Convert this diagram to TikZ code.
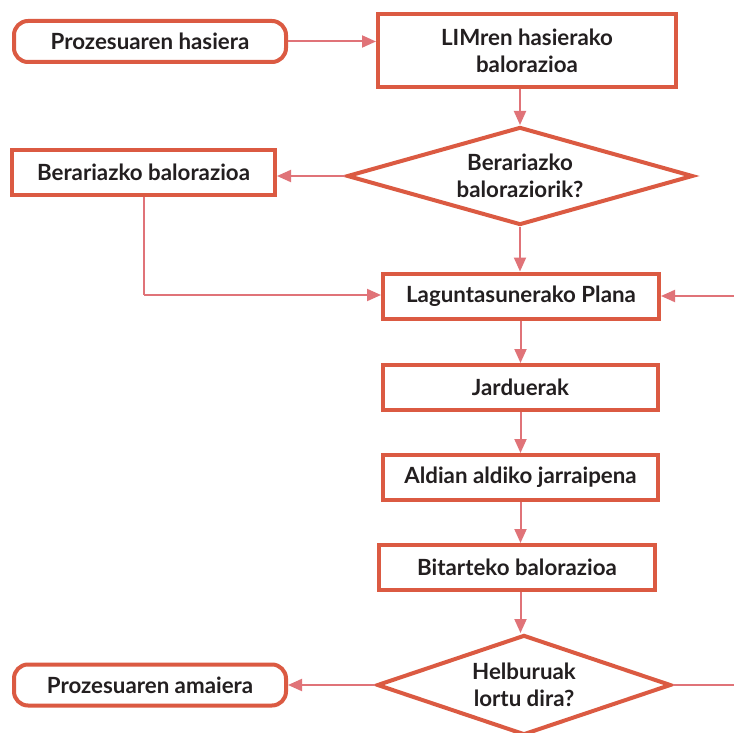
\documentclass[tikz,border=0pt]{standalone}
\usepackage{fontspec}
\setmainfont{Lato}
\usetikzlibrary{shapes.geometric,arrows.meta}
\definecolor{bord}{HTML}{DB5A42}
\definecolor{arr}{HTML}{E07378}
\definecolor{txt}{HTML}{231F20}
\begin{document}
\begin{tikzpicture}[x=1pt,y=-1pt,
  base/.style={draw=bord,line width=4pt,fill=white,inner sep=0pt,text=txt,
    font=\fontsize{22.3}{27}\selectfont\bfseries,align=center},
  box/.style={base,rectangle,minimum width=276pt,minimum height=45pt},
  term/.style={base,rectangle,rounded corners=14pt,minimum width=272pt,minimum height=41pt},
  decision/.style={base,diamond,aspect=3.4},
  link/.style={draw=arr,line width=2pt,-{Triangle[length=14pt,width=12pt]}},
  plain/.style={draw=arr,line width=2pt}]
\useasboundingbox (0,0) rectangle (734,733);
\fill[white] (0,0) rectangle (734,733);

\node[term] (start) at (150,41.5) {Prozesuaren hasiera};
\node[box,minimum width=298pt,minimum height=73pt] (lim) at (527,50.5) {LIMren hasierako\\balorazioa};
\node[decision,minimum width=346pt,minimum height=98pt] (d1) at (520,176) {Berariazko\\baloraziorik?};
\node[box,minimum width=263pt] (bera) at (143.5,172.5) {Berariazko balorazioa};
\node[box] (plan) at (521,296) {Laguntasunerako Plana};
\node[box,minimum width=275pt] (jard) at (520.5,387.5) {Jarduerak};
\node[box,minimum width=275pt] (ald) at (520.5,477.5) {Aldian aldiko jarraipena};
\node[box] (bit) at (517,567.5) {Bitarteko balorazioa};
\node[decision,minimum width=294pt,minimum height=100pt] (d2) at (524,685) {Helburuak\\lortu dira?};
\node[term] (end) at (150,685) {Prozesuaren amaiera};

\coordinate (rtop) at (734,296);
\coordinate (rbot) at (734,685);
\coordinate (bend) at (143.5,295);

\draw[link] (start.east) -- (start.east -| lim.west);
\draw[link] (lim.south -| d1.north) -- (d1.north);
\draw[link] (d1.west) -- (d1.west -| bera.east);
\draw[link] (d1.south) -- (d1.south |- plan.north);
\draw[plain] (bera.south) -- (bend);
\draw[link] (bend) -- (bend -| plan.west);
\draw[link] (rtop) -- (plan.east);
\draw[link] (plan.south -| jard.north) -- (jard.north);
\draw[link] (jard.south) -- (ald.north);
\draw[link] (ald.south) -- (ald.south |- bit.north);
\draw[link] (ald.south |- bit.south) -- (ald.south |- d2.north);
\draw[link] (d2.west) -- (d2.west -| end.east);
\draw[plain] (d2.east) -- (rbot);
\end{tikzpicture}
\end{document}
